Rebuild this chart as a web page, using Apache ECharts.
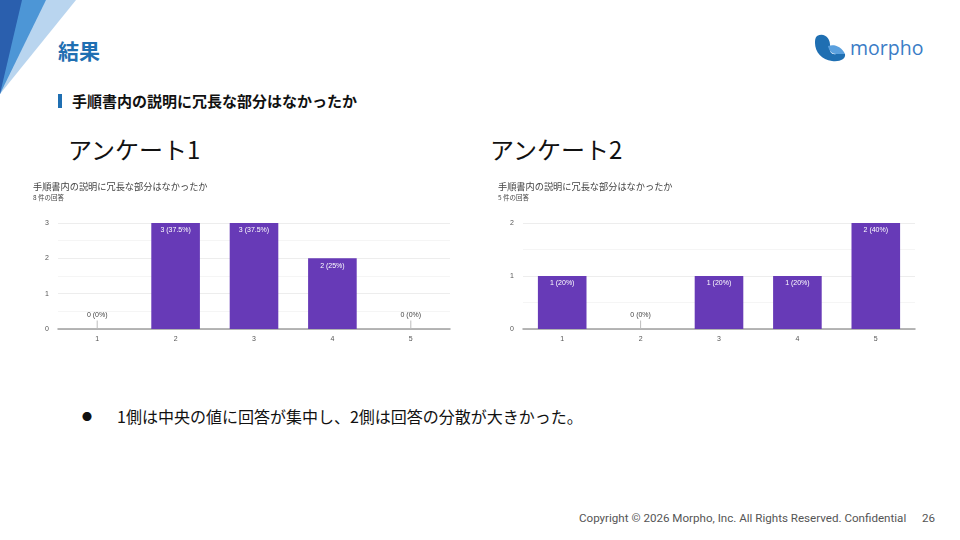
<!DOCTYPE html>
<html>
<head>
<meta charset="utf-8">
<script src="https://cdn.jsdelivr.net/npm/echarts@6/dist/echarts.min.js"></script>
<style>
  html, body { margin: 0; padding: 0; background: #fff; }
  body { width: 960px; height: 540px; position: relative; overflow: hidden;
         font-family: "Noto Sans CJK JP", "Noto Sans", sans-serif; }
  .abs { position: absolute; white-space: nowrap; }
  #deco { position: absolute; left: 0; top: 0; }
  #title { left: 58px; top: 34px; font-size: 21px; font-weight: bold; color: #1f6fb2; line-height: 32px; }
  #subbar { left: 58px; top: 94px; width: 4px; height: 14px; background: #1f6fb2; }
  #sub { left: 72px; top: 90px; font-size: 15px; font-weight: bold; color: #111; line-height: 22px; }
  .survey { font-size: 24px; color: #111; line-height: 32px; top: 133px; }
  #s1 { left: 68px; }
  #s2 { left: 490px; }
  .chart { position: absolute; width: 440px; height: 180px; }
  #chart1 { left: 20px; top: 172px; }
  #chart2 { left: 485px; top: 172px; }
  #bullet { left: 82px; top: 408px; font-size: 10px; color: #111; line-height: 18px; }
  #note { left: 117px; top: 404px; font-size: 16px; color: #111; line-height: 24px; }
  #copy { left: 579px; top: 510px; font-family: Roboto, sans-serif; font-size: 11.6px; color: #555; line-height: 16px; }
  #page { left: 922px; top: 510px; font-family: Roboto, sans-serif; font-size: 11.6px; color: #555; line-height: 16px; }
  #logo { left: 814px; top: 32px; }
  #logotext { left: 850px; top: 33px; font-family: "Open Sans", sans-serif; font-size: 19.5px; color: #3a7cc6; line-height: 30px; }
</style>
</head>
<body>
<svg id="deco" width="100" height="100">
  <polygon points="0,0 76,0 0,94" fill="#b9d5ef"/>
  <polygon points="0,0 46,0 0,94" fill="#4d96d6"/>
  <polygon points="0,0 22,0 0,94" fill="#2a5fae"/>
</svg>
<div id="title" class="abs">結果</div>
<div id="subbar" class="abs"></div>
<div id="sub" class="abs">手順書内の説明に冗長な部分はなかったか</div>
<svg id="logo" class="abs" width="34" height="32">
  <path d="M3,4 C10,0 17,6 16,15 C15,20 18,23 22,22 L31,22 C32,27 26,30 18,29 C8,28 1,20 1,11 C1,8 1,6 3,4 Z" fill="#1f6fb2"/>
  <path d="M14,14 C20,12 27,14 31,22 L22,22 C18,22 15,19 14,14 Z" fill="#5aa0de"/>
</svg>
<div id="logotext" class="abs">morpho</div>
<div id="s1" class="abs survey">アンケート1</div>
<div id="s2" class="abs survey">アンケート2</div>
<div id="chart1" class="chart"></div>
<div id="chart2" class="chart"></div>
<div id="bullet" class="abs">●</div>
<div id="note" class="abs">1側は中央の値に回答が集中し、2側は回答の分散が大きかった。</div>
<div id="copy" class="abs">Copyright © 2026 Morpho, Inc. All Rights Reserved. Confidential</div>
<div id="page" class="abs">26</div>

<script>
  // 回答の選択肢
  const categories = ['1', '2', '3', '4', '5'];
  const questionTitle = '手順書内の説明に冗長な部分はなかったか';

  // アンケート1
  const survey1Values = [0, 3, 3, 2, 0];
  const survey1Count = 8;
  const survey1Max = 3;

  // アンケート2
  const survey2Values = [1, 0, 1, 1, 2];
  const survey2Count = 5;
  const survey2Max = 2;

  function makeChart(id, values, count, yMax) {
    const chart = echarts.init(document.getElementById(id));
    const data = values.map(v => ({
      value: v,
      label: v === 0
        ? { position: 'top', color: '#444', distance: 0 }
        : { position: 'insideTop', color: '#fff', distance: 3 }
    }));
    const pct = v => Math.round(v / count * 1000) / 10 + '%';
    chart.setOption({
      animation: false,
      title: {
        text: questionTitle,
        subtext: count + ' 件の回答',
        left: 8,
        top: 5,
        itemGap: 3,
        textStyle: { fontSize: 9.2, fontWeight: 'normal', color: '#444', fontFamily: 'Noto Sans CJK JP' },
        subtextStyle: { fontSize: 6.5, color: '#444', fontFamily: 'Noto Sans CJK JP' }
      },
      grid: { left: 38, right: 10, top: 51, bottom: 23 },
      xAxis: {
        type: 'category',
        data: categories,
        axisTick: { show: false },
        axisLine: { lineStyle: { color: '#9e9e9e', width: 1.5 } },
        axisLabel: { fontSize: 7, color: '#555', margin: 7 }
      },
      yAxis: {
        type: 'value',
        min: 0,
        max: yMax,
        interval: 1,
        axisLabel: { fontSize: 7, color: '#555', margin: 9 },
        splitLine: { lineStyle: { color: '#e8e8e8', width: 0.8 } },
        minorTick: { show: false, splitNumber: 2 },
        minorSplitLine: { show: true, lineStyle: { color: '#f3f3f3', width: 0.8 } }
      },
      series: [{
        type: 'bar',
        data: data,
        barWidth: '62%',
        itemStyle: { color: '#673ab7' },
        label: {
          show: true,
          fontSize: 7,
          lineHeight: 9,
          formatter: p => p.value === 0
            ? p.value + ' (' + pct(p.value) + ')\n{tick|}'
            : p.value + ' (' + pct(p.value) + ')',
          rich: {
            tick: { width: 1, height: 8, backgroundColor: '#bdbdbd' }
          }
        }
      }]
    });
    return chart;
  }

  makeChart('chart1', survey1Values, survey1Count, survey1Max);
  makeChart('chart2', survey2Values, survey2Count, survey2Max);
</script>
</body>
</html>
